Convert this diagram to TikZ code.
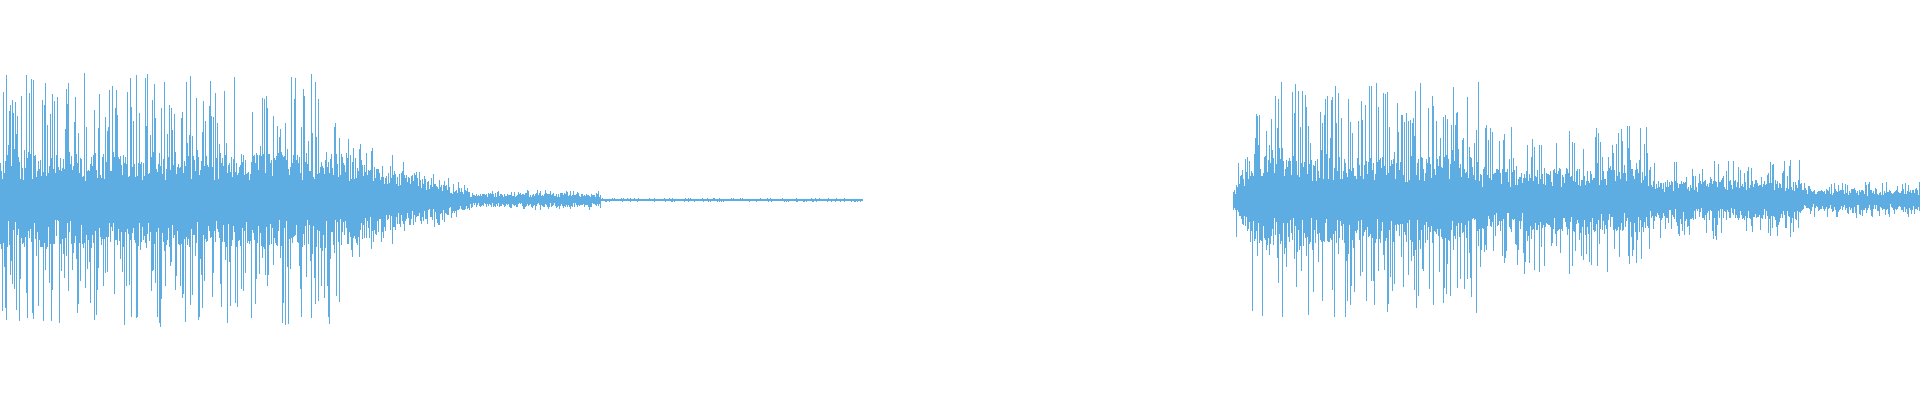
\documentclass[tikz,border=0pt]{standalone}
\usepackage{tikz}
\definecolor{wave}{RGB}{93,173,226}
\tikzset{sample/.style={wave,line width=0.45pt}}
\begin{document}
\begin{tikzpicture}[x=1pt,y=1pt]
\useasboundingbox (0,0) rectangle (1920,400);
\pgfmathsetseed{7}
% first clip
\foreach \x in {0,0.7,...,863}{
  \pgfmathsetmacro\core{\x<340 ? 48 : (\x<470 ? 48-0.3*(\x-340) : (\x<600 ? 7 : 1.5))}
  \pgfmathsetmacro\peak{\x<340 ? 128 : (\x<470 ? 66-0.4*(\x-340) : (\x<600 ? 10 : 2))}
  \pgfmathsetmacro\up{rnd<0.3 ? \peak*(0.3+0.7*rnd) : \core*(0.4+0.6*rnd)}
  \pgfmathsetmacro\dn{rnd<0.3 ? \peak*(0.3+0.7*rnd) : \core*(0.4+0.6*rnd)}
  \draw[sample] (\x,200+\up) -- (\x,200-\dn);
}
% second clip
\foreach \x in {1233,1233.7,...,1920}{
  \pgfmathsetmacro\core{\x<1250 ? 10+(\x-1233)*1.9 : (\x<1480 ? 44 : (\x<1650 ? 32 : (\x<1800 ? 20 : 11)))}
  \pgfmathsetmacro\peak{\x<1250 ? 50 : (\x<1480 ? 118 : (\x<1650 ? 75 : (\x<1800 ? 40 : 18)))}
  \pgfmathsetmacro\up{rnd<0.3 ? \peak*(0.3+0.7*rnd) : \core*(0.4+0.6*rnd)}
  \pgfmathsetmacro\dn{rnd<0.3 ? \peak*(0.3+0.7*rnd) : \core*(0.4+0.6*rnd)}
  \draw[sample] (\x,200+\up) -- (\x,200-\dn);
}
\end{tikzpicture}
\end{document}
